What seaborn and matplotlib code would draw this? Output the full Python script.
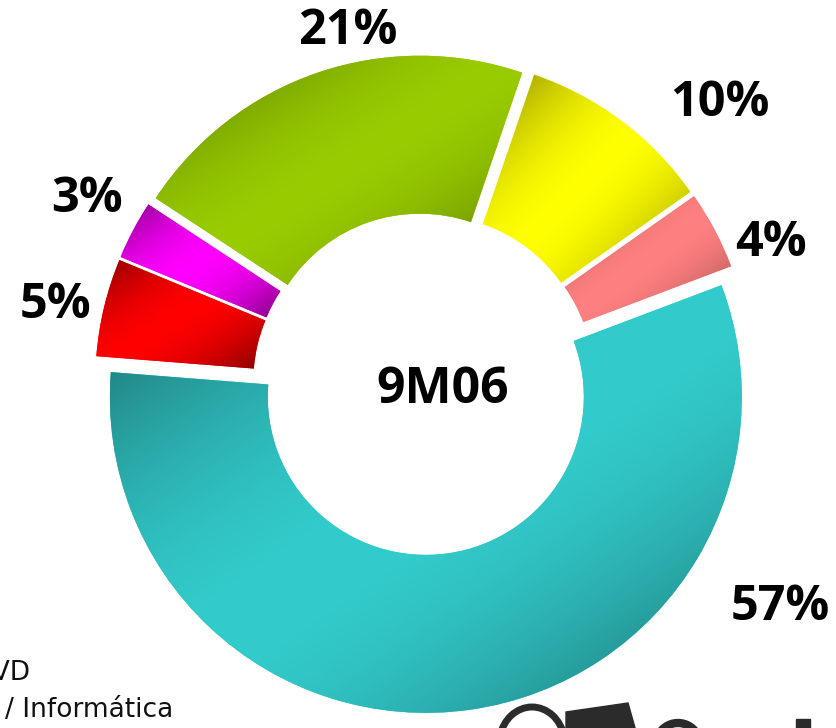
import numpy as np
import matplotlib
matplotlib.use("Agg")
import matplotlib.pyplot as plt
import seaborn as sns
from matplotlib.patches import Arc, Polygon, Rectangle

# ---- data ----
categories = ["Cyan", "Pink", "Yellow", "Green", "Magenta", "Red"]
values = [57, 4, 10, 21, 3, 5]
labels = ["57%", "4%", "10%", "21%", "3%", "5%"]
colors = ["#33CCCC", "#FF8080", "#FFFF00", "#99CC00", "#FF00FF", "#FF0000"]
center_label = "9M06"

# label placement (pixel coords, y from top)
label_pos = [(780, 607), (771, 244), (720, 103), (348, 31), (87, 200), (56, 305)]

W, H = 836, 728
sns.set_theme(style="white")
plt.rcParams["font.family"] = ["Open Sans", "DejaVu Sans"]

fig = plt.figure(figsize=(W / 100, H / 100), dpi=100)
ax = fig.add_axes([0, 0, 1, 1])

cx, cy = 424, H - 384
R = 316
wedges, _ = ax.pie(values, colors=colors, startangle=175.5, counterclock=True,
                   radius=R, center=(cx, cy), explode=[13] * len(values),
                   wedgeprops=dict(width=158, edgecolor="none", linewidth=0),
                   frame=True)

# shading: dark at top-left and bottom-right of each wedge, bright in middle
for w, col in zip(wedges, colors):
    ext = w.get_path().get_extents()
    x0, y0, x1, y1 = ext.x0, ext.y0, ext.x1, ext.y1
    nx, ny = 200, 200
    X, Y = np.meshgrid(np.linspace(x0, x1, nx), np.linspace(y0, y1, ny))
    t = 0.5 * ((X - x0) / (x1 - x0) + (y1 - Y) / (y1 - y0))
    f = 1 - 0.5 * np.abs(2 * t - 1) ** 1.8
    base = np.array(matplotlib.colors.to_rgb(col))
    img = np.clip(base[None, None, :] * f[:, :, None], 0, 1)
    im = ax.imshow(img, extent=(x0, x1, y0, y1), origin="lower",
                   interpolation="bilinear", zorder=2, aspect="auto")
    im.set_clip_path(w)

for lab, (px, py) in zip(labels, label_pos):
    ax.text(px, H - py, lab, ha="center", va="center", fontsize=35,
            fontweight="bold", color="black", zorder=5)

ax.text(443, H - 390, center_label, ha="center", va="center", fontsize=36,
        fontweight="bold", color="black", zorder=5)

# cropped footer text
ax.text(-28, H - 680, "DVD", ha="left", va="baseline", fontsize=19,
        color="#111111", family=["DejaVu Sans"], zorder=5)
ax.text(5, H - 717, "/ Informática", ha="left", va="baseline", fontsize=19,
        color="#111111", family=["DejaVu Sans"], zorder=5)

# cropped logo fragments
dark = "#2b2b2b"
ax.add_patch(Arc((532, H - 745), 66, 76, theta1=15, theta2=165,
                 lw=5, color=dark, zorder=5))
ax.add_patch(Polygon([(566, H - 712), (628, H - 703), (637, H - 735), (566, H - 735)],
                     closed=True, color=dark, zorder=5))
ax.add_patch(Arc((678, H - 745), 44, 44, theta1=30, theta2=170,
                 lw=6, color=dark, zorder=5))
ax.add_patch(Rectangle((796, H - 735), 14, 16, color=dark, zorder=5))

ax.set_xlim(0, W)
ax.set_ylim(0, H)
ax.set_aspect("equal")
ax.axis("off")
fig.savefig("out.png", dpi=100, facecolor="white")
